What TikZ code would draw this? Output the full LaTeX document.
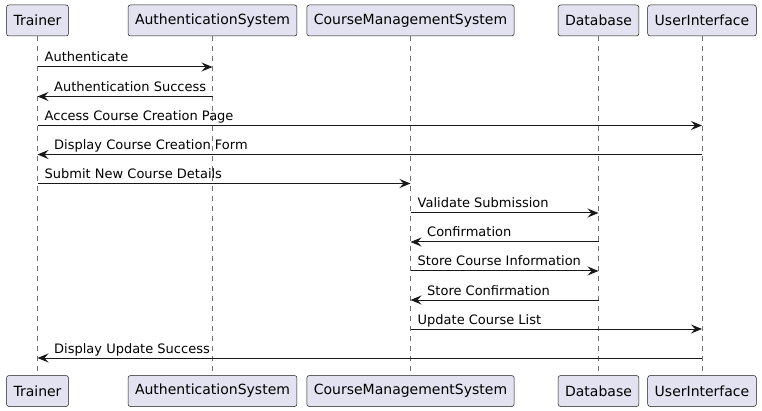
\documentclass[tikz,border=0pt]{standalone}
\usepackage{fontspec}
\setmainfont{DejaVu Sans}
\usetikzlibrary{arrows.meta}
\definecolor{pfill}{HTML}{E2E2F0}
\definecolor{pline}{HTML}{181818}
\tikzset{
  part/.style={draw=pline, fill=pfill, rounded corners=2.5pt, line width=0.5pt,
    minimum height=31pt, inner xsep=7pt, inner ysep=0pt, font=\fontsize{14}{16}\selectfont},
  life/.style={draw=black!55, line width=0.5pt, dash pattern=on 5pt off 5pt},
  msg/.style={draw=pline, line width=1pt, -{Stealth[length=11pt,width=9pt,inset=4pt]}},
  lbl/.style={inner sep=0pt, font=\fontsize{13}{15}\selectfont, text=black},
}
\begin{document}
\begin{tikzpicture}[x=1pt,y=-1pt]
\useasboundingbox (0,0) rectangle (762,411);
% participants top
\node[part] (tr) at (37.5,20.5) {Trainer};
\node[part] (au) at (212.5,20.5) {AuthenticationSystem};
\node[part] (cm) at (410.5,20.5) {CourseManagementSystem};
\node[part] (db) at (598.5,20.5) {Database};
\node[part] (ui) at (702,20.5) {UserInterface};
% participants bottom
\node[part] (trb) at (37.5,391) {Trainer};
\node[part] (aub) at (212.5,391) {AuthenticationSystem};
\node[part] (cmb) at (410.5,391) {CourseManagementSystem};
\node[part] (dbb) at (598.5,391) {Database};
\node[part] (uib) at (702,391) {UserInterface};
% lifelines
\draw[life] (tr.south) -- (trb.north);
\draw[life] (au.south) -- (aub.north);
\draw[life] (cm.south) -- (cmb.north);
\draw[life] (db.south) -- (dbb.north);
\draw[life] (ui.south) -- (uib.north);
% message rows
\coordinate (m1) at (0,67);
\coordinate (m2) at (0,96.5);
\coordinate (m3) at (0,125.5);
\coordinate (m4) at (0,154.5);
\coordinate (m5) at (0,183.5);
\coordinate (m6) at (0,213);
\coordinate (m7) at (0,242);
\coordinate (m8) at (0,271);
\coordinate (m9) at (0,300);
\coordinate (m10) at (0,329);
\coordinate (m11) at (0,358);
% messages
\draw[msg] (tr |- m1) -- (au |- m1);
\node[lbl, anchor=base west] (l1) at ([xshift=7pt,yshift=5pt]tr |- m1) {Authenticate};
\draw[msg] (au |- m2) -- (tr |- m2);
\node[lbl, anchor=base west] (l2) at ([xshift=16.5pt,yshift=5pt]tr |- m2) {Authentication Success};
\draw[msg] (tr |- m3) -- (ui |- m3);
\node[lbl, anchor=base west] (l3) at ([xshift=7pt,yshift=5pt]tr |- m3) {Access Course Creation Page};
\draw[msg] (ui |- m4) -- (tr |- m4);
\node[lbl, anchor=base west] (l4) at ([xshift=16.5pt,yshift=5pt]tr |- m4) {Display Course Creation Form};
\draw[msg] (tr |- m5) -- (cm |- m5);
\node[lbl, anchor=base west] (l5) at ([xshift=7pt,yshift=5pt]tr |- m5) {Submit New Course Details};
\draw[msg] (cm |- m6) -- (db |- m6);
\node[lbl, anchor=base west] (l6) at ([xshift=7pt,yshift=5pt]cm |- m6) {Validate Submission};
\draw[msg] (db |- m7) -- (cm |- m7);
\node[lbl, anchor=base west] (l7) at ([xshift=16.5pt,yshift=5pt]cm |- m7) {Confirmation};
\draw[msg] (cm |- m8) -- (db |- m8);
\node[lbl, anchor=base west] (l8) at ([xshift=7pt,yshift=5pt]cm |- m8) {Store Course Information};
\draw[msg] (db |- m9) -- (cm |- m9);
\node[lbl, anchor=base west] (l9) at ([xshift=16.5pt,yshift=5pt]cm |- m9) {Store Confirmation};
\draw[msg] (cm |- m10) -- (ui |- m10);
\node[lbl, anchor=base west] (l10) at ([xshift=7pt,yshift=5pt]cm |- m10) {Update Course List};
\draw[msg] (ui |- m11) -- (tr |- m11);
\node[lbl, anchor=base west] (l11) at ([xshift=16.5pt,yshift=5pt]tr |- m11) {Display Update Success};
\end{tikzpicture}
\end{document}
